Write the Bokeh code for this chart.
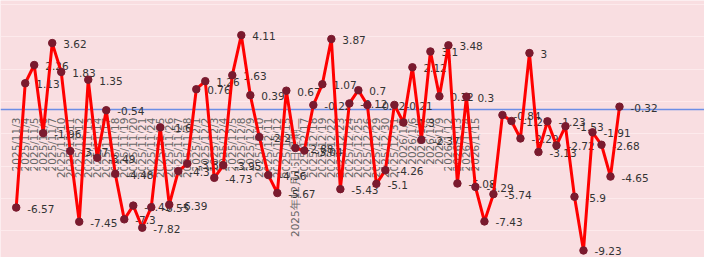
import math
from bokeh.plotting import figure
from bokeh.models import Range1d, FixedTicker, ColumnDataSource, LinearAxis, SingleIntervalTicker
from bokeh.embed import file_html
from bokeh.resources import INLINE
from bokeh.core.properties import value

# category labels (trading days); later categories carry no label
dates = (
    ["2025/11/%d" % d for d in [3, 4, 5, 6, 7, 10, 11, 12, 13, 14, 17, 18, 19, 20, 21, 24, 25, 26, 27, 28]]
    + ["2025/12/%d" % d for d in [1, 2, 3, 4, 5, 8, 9, 10, 11, 12, 15]]
    + ["2025年12月16日星期二"]
    + ["2025/12/%d" % d for d in [17, 18, 19, 22, 23, 24, 25, 26, 29, 30, 31]]
    + ["2026/1/%d" % d for d in [5, 6, 7, 8, 9, 12, 13, 14, 15]]
)

values = [
    -6.57, 1.13, 2.26, -1.96, 3.62, 1.83, -3.07, -7.45, 1.35, -3.49,
    -0.54, -4.48, -7.3, -6.45, -7.82, -6.55, -1.6, -6.39, -4.31, -3.86,
    0.76, 1.26, -4.73, -3.95, 1.63, 4.11, 0.39, -2.2, -4.56, -5.67,
    0.67, -2.88, -3.04, -0.22, 1.07, 3.87, -5.43, -0.12, 0.7, -0.22,
    -5.1, -4.26, -0.21, -1.3, 2.12, -2.37, 3.1, 0.32, 3.48, -5.08,
    0.3, -5.29, -7.43, -5.74, -0.84, -1.21, -2.29, 3, -3.13, -1.23,
    -2.72, -1.53, -5.9, -9.23, -1.91, -2.68, -4.65, -0.32,
]

xs = list(range(len(values)))
src = ColumnDataSource(dict(x=xs, y=values, lab=[f"{v:g}" for v in values]))

p = figure(width=704, height=257, output_backend="svg", toolbar_location=None,
           x_range=Range1d(-1.744, 76.44), y_range=Range1d(-9.665, 6.258),
           x_axis_location=None, y_axis_location=None, min_border=0)
p.background_fill_color = "#f9dee1"
p.border_fill_color = "#f9dee1"
p.outline_line_color = None
p.xgrid.visible = False
p.ygrid.ticker = SingleIntervalTicker(interval=2)
p.ygrid.grid_line_color = "#fdeaec"
p.ygrid.grid_line_width = 1

ax = LinearAxis(ticker=FixedTicker(ticks=list(range(len(dates)))),
                major_label_overrides={i: d for i, d in enumerate(dates)})
ax.fixed_location = -0.5
ax.axis_line_color = "#6c8ee6"
ax.axis_line_width = 1.3
ax.major_tick_line_color = None
ax.minor_tick_line_color = None
ax.major_label_orientation = math.pi / 2
ax.major_label_standoff = 2
ax.major_label_text_font = "DejaVu Sans"
ax.major_label_text_font_size = "10.5px"
ax.major_label_text_color = "#666666"
ax.level = "underlay"
p.add_layout(ax, "below")

p.text("x", "y", text="lab", source=src, x_offset=11, y_offset=1,
       text_font=value("DejaVu Sans"), text_font_size="10.5px",
       text_color="#333333", text_baseline="middle", text_align="left")
p.line("x", "y", source=src, line_color="#ff0000", line_width=3)
p.scatter("x", "y", source=src, size=7.5, fill_color="#7a1a2e", line_color="#7a1a2e")

open("out.html", "w").write(file_html(p, INLINE))
